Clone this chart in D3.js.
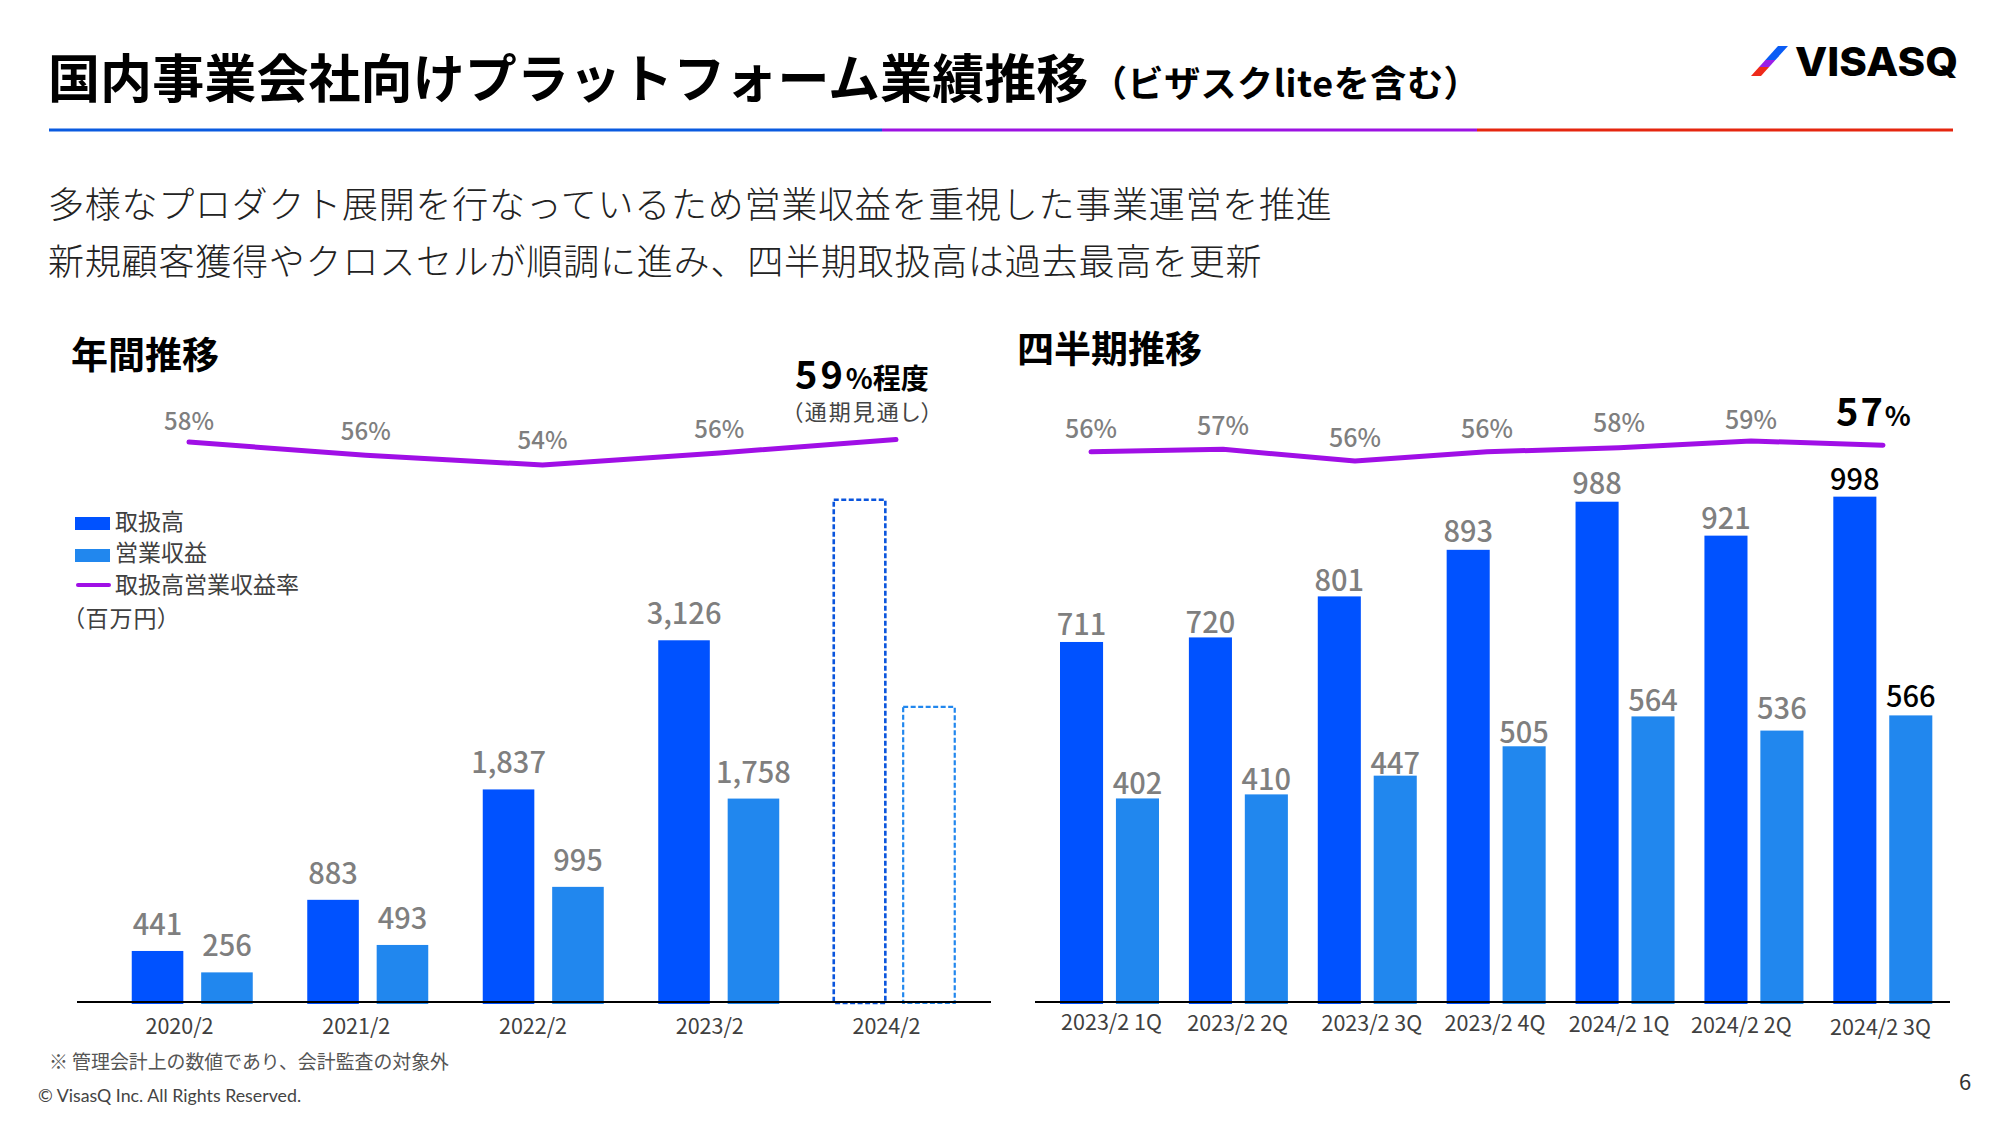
<!DOCTYPE html>
<html lang="ja">
<head>
<meta charset="utf-8">
<script src="https://cdnjs.cloudflare.com/ajax/libs/d3/7.8.5/d3.min.js"></script>
<style>
  html, body { margin: 0; background: #fff; }
  text { font-family: "Noto Sans CJK JP", "Noto Sans", sans-serif; }
</style>
</head>
<body>
<div id="chart"></div>
<script>
// yearly
var yearCats = ["2020/2", "2021/2", "2022/2", "2023/2", "2024/2"];
var yearGmv = [441, 883, 1837, 3126, 4340];
var yearRev = [256, 493, 995, 1758, 2550];
var yearRate = [58.0, 55.8, 54.2, 56.2, 58.4];
var yearRateLabels = ["58%", "56%", "54%", "56%"];

// quarterly
var quarterCats = ["2023/2 1Q", "2023/2 2Q", "2023/2 3Q", "2023/2 4Q", "2024/2 1Q", "2024/2 2Q", "2024/2 3Q"];
var quarterGmv = [711, 720, 801, 893, 988, 921, 998];
var quarterRev = [402, 410, 447, 505, 564, 536, 566];
var quarterRate = [56.9, 57.2, 55.8, 56.9, 57.4, 58.2, 57.7];
var quarterRateLabels = ["56%", "57%", "56%", "56%", "58%", "59%"];

var BLUE = "#0052ff", LIGHT = "#2187ee", PURPLE = "#a00fe6", GREY = "#7f7f7f";

var svg = d3.select("#chart").append("svg")
  .attr("width", 2000)
  .attr("height", 1125)
  .style("display", "block");

function put(x, y, str, size, weight, fill, anchor) {
  return svg.append("text")
    .attr("x", x).attr("y", y)
    .attr("font-size", size)
    .attr("font-weight", weight || 400)
    .attr("fill", fill || "#000")
    .attr("text-anchor", anchor || "start")
    .text(str);
}

// header
put(48, 98, "国内事業会社向けプラットフォーム業績推移", 52, 700).attr("letter-spacing", 0.1);
put(1091, 97, "（ビザスクliteを含む）", 36, 700).attr("letter-spacing", 0.6);
svg.append("line").attr("x1", 49).attr("x2", 882).attr("y1", 130).attr("y2", 130).attr("stroke", "#0a5ae0").attr("stroke-width", 3);
svg.append("line").attr("x1", 882).attr("x2", 1477).attr("y1", 130).attr("y2", 130).attr("stroke", "#9c12e2").attr("stroke-width", 3);
svg.append("line").attr("x1", 1477).attr("x2", 1953).attr("y1", 130).attr("y2", 130).attr("stroke", "#e5260f").attr("stroke-width", 3);

// logo
[["#0a5cf5", 46, 60], ["#9a1fe8", 60, 67], ["#ee2a1a", 67, 76]].forEach(function(s) {
  var skew = function(y) { return 1778 - (y - 46) * 0.9; };
  svg.append("polygon")
    .attr("points", [[skew(s[1]), s[1]], [skew(s[1]) + 10, s[1]], [skew(s[2]) + 10, s[2]], [skew(s[2]), s[2]]].join(" "))
    .attr("fill", s[0]);
});
put(1795, 76, "VISASQ", 40, 800).style("font-family", "Inter").attr("textLength", 163).attr("lengthAdjust", "spacingAndGlyphs");

// lead text
put(48, 218, "多様なプロダクト展開を行なっているため営業収益を重視した事業運営を推進", 36, 300, "#222").attr("letter-spacing", 0.75);
put(48, 275, "新規顧客獲得やクロスセルが順調に進み、四半期取扱高は過去最高を更新", 36, 300, "#222").attr("letter-spacing", 0.8);

// section titles
put(71, 369, "年間推移", 37, 700);
put(1017, 363, "四半期推移", 37, 700);

function drawChart(o) {
  var x0 = d3.scaleBand().domain(o.cats).range(o.groupRange);
  var x1 = d3.scaleBand().domain(["gmv", "rev"]).range(o.innerRange).paddingInner(o.innerPad);
  var y = d3.scaleLinear().domain(o.yDomain).range([o.base, o.yTop]);
  var xRate = d3.scalePoint().domain(o.cats).range(o.rateRange);
  var yRate = d3.scaleLinear().domain(o.rateDomain).range(o.rateY);

  [["gmv", o.gmv, BLUE], ["rev", o.rev, LIGHT]].forEach(function(s) {
    var rows = o.cats.map(function(c, i) { return { cat: c, v: s[1][i], i: i }; });
    var solid = rows.filter(function(d) { return !o.forecast || d.i < o.cats.length - 1; });
    var plan = rows.filter(function(d) { return o.forecast && d.i === o.cats.length - 1; });
    var nudge = (o.labelNudge && o.labelNudge[s[0]]) || [];

    svg.append("g").selectAll("rect").data(solid).join("rect")
      .attr("x", function(d) { return x0(d.cat) + x1(s[0]); })
      .attr("y", function(d) { return y(d.v); })
      .attr("width", x1.bandwidth())
      .attr("height", function(d) { return o.base - y(d.v) + 2; })
      .attr("fill", s[2]);

    svg.append("g").selectAll("rect").data(plan).join("rect")
      .attr("x", function(d) { return x0(d.cat) + x1(s[0]); })
      .attr("y", function(d) { return y(d.v); })
      .attr("width", x1.bandwidth())
      .attr("height", function(d) { return o.base - y(d.v) + 1; })
      .attr("fill", "none")
      .attr("stroke", s[0] === "gmv" ? "#0a55dd" : LIGHT)
      .attr("stroke-width", s[0] === "gmv" ? 2.6 : 2.2)
      .attr("stroke-dasharray", "5 2.5");

    svg.append("g").selectAll("text").data(solid).join("text")
      .attr("x", function(d) { return x0(d.cat) + x1(s[0]) + x1.bandwidth() / 2; })
      .attr("y", function(d) { return y(d.v) - o.labelGap + (nudge[d.i] || 0); })
      .attr("text-anchor", "middle")
      .attr("font-size", 29)
      .attr("font-weight", 500)
      .attr("fill", function(d) { return o.highlightLast && d.i === o.cats.length - 1 ? "#000" : GREY; })
      .text(function(d) { return d3.format(",")(d.v); });
  });

  // axis line and tick labels
  var xTick = d3.scalePoint().domain(o.cats).range(o.tickRange);
  var axis = svg.append("g")
    .attr("transform", "translate(0," + o.base + ")")
    .call(d3.axisBottom(xTick).tickSize(0).tickPadding(o.tickPad));
  axis.select(".domain").remove();
  axis.selectAll("text")
    .attr("font-size", 21.5)
    .attr("fill", "#404040")
    .style("font-family", '"Noto Sans CJK JP"')
    .attr("dx", function(d, i) { return o.tickDx ? o.tickDx[i] : 0; })
    .attr("dy", function(d, i) { return o.tickDy ? o.tickDy[i] : "0.71em"; });
  svg.append("line")
    .attr("x1", o.axisX[0]).attr("x2", o.axisX[1])
    .attr("y1", o.base).attr("y2", o.base)
    .attr("stroke", "#000").attr("stroke-width", 2);

  // rate line
  var line = d3.line()
    .x(function(d, i) { return xRate(o.cats[i]); })
    .y(function(d) { return yRate(d); });
  svg.append("path")
    .attr("d", line(o.rate))
    .attr("fill", "none")
    .attr("stroke", PURPLE)
    .attr("stroke-width", 5)
    .attr("stroke-linecap", "round")
    .attr("stroke-linejoin", "round");
  svg.append("g").selectAll("text").data(o.rateLabels).join("text")
    .attr("x", function(d, i) { return xRate(o.cats[i]); })
    .attr("y", function(d, i) { return yRate(o.rate[i]) - o.rateGap[i]; })
    .attr("text-anchor", "middle")
    .attr("font-size", o.rateSize)
    .attr("font-weight", 500)
    .attr("fill", GREY)
    .text(function(d) { return d; });
}

drawChart({
  cats: yearCats, gmv: yearGmv, rev: yearRev, rate: yearRate, rateLabels: yearRateLabels,
  groupRange: [104.5, 982], innerRange: [27.25, 148.25], innerPad: 0.257,
  yDomain: [0, 3500], base: 1002, yTop: 597,
  rateRange: [189, 896], rateDomain: [54.2, 58], rateY: [465, 442], rateSize: 24,
  rateGap: [12, 15, 16, 15],
  tickRange: [179, 886], tickPad: 17, axisX: [77, 991],
  labelGap: 16, forecast: true
});

drawChart({
  cats: quarterCats, gmv: quarterGmv, rev: quarterRev, rate: quarterRate, rateLabels: quarterRateLabels,
  groupRange: [1045, 1947.2], innerRange: [15, 114], innerPad: 0.23,
  yDomain: [0, 1100], base: 1002, yTop: 445,
  rateRange: [1091, 1883], rateDomain: [55.8, 58.2], rateY: [461, 441], rateSize: 25,
  rateGap: [14, 14, 14, 14, 16, 12],
  tickRange: [1111, 1880], tickPad: 13, axisX: [1035, 1950],
  tickDx: [0, -2, 4, -1, -5, -11, 0], tickDy: ["0.71em", "0.76em", "0.76em", "0.76em", "0.81em", "0.86em", "0.95em"],
  labelGap: 7, highlightLast: true,
  labelNudge: { gmv: [0, 3, 2, -1, -1, 0, 0], rev: [3, 2.5, 5, 4, 1.5, -5, -1.5] }
});

// callouts
var yearCallout = put(795, 389, "", 38, 700);
yearCallout.append("tspan").attr("letter-spacing", 3).text("59");
yearCallout.append("tspan").attr("font-size", 28).text("%程度");
put(863, 420, "（通期見通し）", 22, 400, "#444", "middle")
  .attr("letter-spacing", 2)
  .style("font-feature-settings", "'palt'");

var quarterCallout = put(1836, 426, "", 38, 700);
quarterCallout.append("tspan").attr("letter-spacing", 2).text("57");
quarterCallout.append("tspan").attr("font-size", 27).text("%");

// legend
var legendColors = [BLUE, LIGHT];
var legendNames = ["取扱高", "営業収益", "取扱高営業収益率"];
legendColors.forEach(function(c, i) {
  svg.append("rect").attr("x", 75).attr("y", 517 + i * 32).attr("width", 35).attr("height", 13).attr("fill", c);
});
svg.append("line").attr("x1", 78).attr("x2", 109).attr("y1", 585).attr("y2", 585)
  .attr("stroke", PURPLE).attr("stroke-width", 4).attr("stroke-linecap", "round");
legendNames.forEach(function(n, i) {
  put(115, 529.5 + i * 31.5, n, 23, 400, "#404040");
});
put(73, 627, "（百万円）", 23, 400, "#404040")
  .attr("letter-spacing", 1)
  .style("font-feature-settings", "'palt'");

// footer
put(49, 1068.5, "※ 管理会計上の数値であり、会計監査の対象外", 18.9, 400, "#555");
put(38, 1101.5, "© VisasQ Inc. All Rights Reserved.", 17.8, 400, "#444").style("font-family", "Lato");
put(1959, 1090, "6", 22, 400, "#333");
</script>
</body>
</html>
